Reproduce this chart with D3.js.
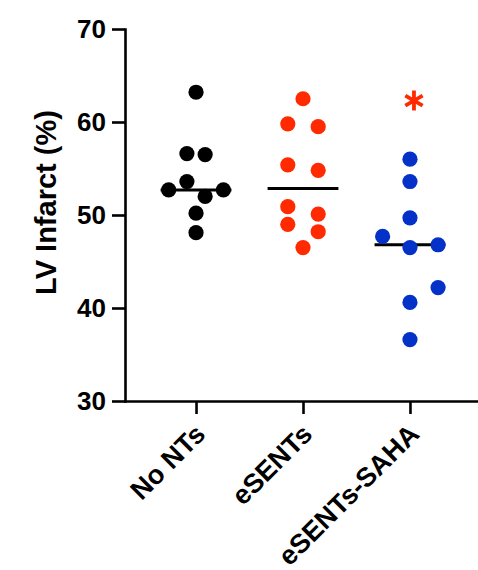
<!DOCTYPE html>
<html>
<head>
<meta charset="utf-8">
<script src="https://cdn.jsdelivr.net/npm/d3@7"></script>
<style>
  body { margin: 0; background: #fff; }
  svg { display: block; font-family: "Liberation Sans", Arial, sans-serif; font-weight: bold; }
</style>
</head>
<body>
<div id="chart"></div>
<script>
// Group names and per-dot values
const groups = ["No NTs", "eSENTs", "eSENTs-SAHA"];
const colors = ["#000000", "#ff2a00", "#0432c8"];

const noNTsValues = [63.2, 56.6, 56.5, 53.6, 52.7, 52.7, 52.0, 50.2, 48.1];
const eSENTsValues = [62.5, 59.8, 59.5, 55.4, 54.8, 50.9, 50.1, 49.0, 48.2, 46.5];
const sahaValues = [56.0, 53.6, 49.7, 47.7, 46.5, 46.8, 42.2, 40.6, 36.6];

// horizontal spread of each dot, in dot diameters
const noNTsJitter = [0, -0.6, 0.6, -0.6, -1.8, 1.8, 0.6, 0, 0];
const eSENTsJitter = [0, -1, 1, -1, 1, -1, 1, -1, 1, 0];
const sahaJitter = [0, 0, 0, -1.8, 0, 1.85, 1.85, 0, 0];

const yTicks = [30, 40, 50, 60, 70];
const significance = { group: "eSENTs-SAHA", value: 62.3 };

const series = [
    { name: groups[0], values: noNTsValues, jitter: noNTsJitter, color: colors[0] },
    { name: groups[1], values: eSENTsValues, jitter: eSENTsJitter, color: colors[1] },
    { name: groups[2], values: sahaValues, jitter: sahaJitter, color: colors[2] }
];

const width = 478, height = 570;
const dotR = 7.6;

const svg = d3.select('#chart')
    .append('svg')
    .attr('width', width)
    .attr('height', height);

// Scales
const x = d3.scalePoint()
    .domain(groups)
    .range([125, 481])
    .padding(0.664);

const y = d3.scaleLinear()
    .domain([30, 70])
    .range([401, 29]);

const jit = d3.scaleLinear()
    .domain([-1, 1])
    .range([-2 * dotR, 2 * dotR]);

// Y axis
const yAxis = svg.append('g')
    .attr('transform', 'translate(125,0)')
    .call(d3.axisLeft(y).tickValues(yTicks).tickSize(13).tickSizeOuter(0).tickPadding(6));

yAxis.select('.domain').attr('stroke-width', 2.6).attr('stroke-linecap', 'square');
yAxis.selectAll('.tick line').attr('stroke-width', 2.6);
yAxis.selectAll('.tick text')
    .attr('fill', '#000')
    .style('font-size', '26px')
    .style('font-family', '"Liberation Sans", Arial, sans-serif')
    .style('font-weight', 'bold');

// X axis
const xAxis = svg.append('g')
    .attr('transform', 'translate(0,401)')
    .call(d3.axisBottom(x).tickSize(13).tickSizeOuter(0).tickFormat(''));

xAxis.select('.domain').attr('stroke-width', 2.6).attr('stroke-linecap', 'square');
xAxis.selectAll('.tick line').attr('stroke-width', 2.6);

// rotated category labels
svg.selectAll('.xlabel')
    .data(groups)
    .enter()
    .append('text')
    .attr('class', 'xlabel')
    .attr('transform', d => `translate(${x(d) - 3},422) rotate(-45)`)
    .attr('text-anchor', 'end')
    .attr('dy', '0.72em')
    .style('font-size', '27px')
    .text(d => d);

// Y axis title
svg.append('text')
    .attr('transform', `translate(56,${(113 + 292) / 2}) rotate(-90)`)
    .attr('text-anchor', 'middle')
    .style('font-size', '29px')
    .text('LV Infarct (%)');

// median lines (drawn under the dots)
svg.selectAll('.median')
    .data(series)
    .enter()
    .append('line')
    .attr('class', 'median')
    .attr('x1', d => x(d.name) + jit(-2.33))
    .attr('x2', d => x(d.name) + jit(2.33))
    .attr('y1', d => y(d3.median(d.values)))
    .attr('y2', d => y(d3.median(d.values)))
    .attr('stroke', '#000')
    .attr('stroke-width', 3);

// dots
series.forEach(s => {
    svg.append('g')
        .selectAll('circle')
        .data(s.values.map((v, i) => ({ v, j: s.jitter[i] })))
        .enter()
        .append('circle')
        .attr('cx', d => x(s.name) + jit(d.j))
        .attr('cy', d => y(d.v))
        .attr('r', dotR)
        .attr('fill', s.color);
});

// significance asterisk
svg.append('path')
    .attr('transform', `translate(${x(significance.group) + 4},${y(significance.value)})`)
    .attr('d', d3.symbol().type(d3.symbolAsterisk).size(282)())
    .attr('fill', 'none')
    .attr('stroke', colors[1])
    .attr('stroke-width', 3.8);
</script>
</body>
</html>
